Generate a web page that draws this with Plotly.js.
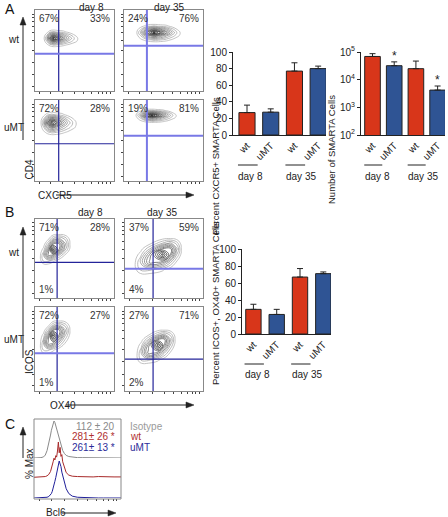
<!DOCTYPE html>
<html><head><meta charset="utf-8">
<script src="https://cdn.plot.ly/plotly-3.0.1.min.js"></script>
<style>html,body{margin:0;padding:0;background:#fff}#c{width:448px;height:517px}</style>
</head><body><div id="c"></div>
<script>
// ---------------- DATA ----------------
const groups = ["wt", "uMT", "wt", "uMT"];
const dayLabels = ["day 8", "day 35"];
const rowLabels = ["wt", "uMT"];

const pctCXCR5 = [27, 27.5, 77, 80];
const pctCXCR5Err = [9, 4, 10, 3];
const numSMARTA = [69000, 32000, 25000, 4200];
const numSMARTAErr = [18000, 12000, 22000, 1700];
const numStars = ["", "*", "", "*"];
const pctICOS = [29, 23, 67, 71];
const pctICOSErr = [6, 6, 10, 2];
const pctTicks = [0, 20, 40, 60, 80, 100];
const logTickVals = [100, 1000, 10000, 100000];
const logTickText = ["10<sup>2</sup>", "10<sup>3</sup>", "10<sup>4</sup>", "10<sup>5</sup>"];

// flow quadrant percentages: [top-left, top-right, bottom-left]
const flowPctA = [["67%", "33%", ""], ["24%", "76%", ""], ["72%", "28%", ""], ["19%", "81%", ""]];
const flowPctB = [["71%", "28%", "1%"], ["37%", "59%", "4%"], ["72%", "27%", "1%"], ["27%", "71%", "2%"]];
// quadrant gates [x, y] (arbitrary fluorescence units 0-100)
const gatesA = [[30, 46], [29, 56], [30, 46], [29, 56]];
const gatesB = [[28, 45], [36, 37], [28, 45], [36, 38]];

// density templates (rows = increasing y)
const zWide = [
  [0, 0, 0, 0, 0, 0, 0, 0, 0],
  [0, 0.5, 1.2, 1.8, 1.6, 1.1, 0.6, 0, 0],
  [0, 1.5, 4, 5.5, 4.5, 3.2, 2, 1, 0],
  [0, 2.5, 7, 10, 8, 5.5, 3.2, 1.3, 0],
  [0, 1.5, 4.5, 6, 5, 3.5, 2, 0.7, 0],
  [0, 0.4, 1.3, 1.8, 1.4, 1.1, 0.4, 0, 0],
  [0, 0, 0, 0, 0, 0, 0, 0, 0]
];
const zTilt = [
  [0, 0, 0, 0, 0, 0, 0],
  [0, 1.8, 1.8, 1, 0.2, 0, 0],
  [0, 2.5, 6, 5, 2.5, 0.6, 0],
  [0, 1.2, 5, 10, 6.5, 2.5, 0],
  [0, 0.4, 2.5, 6.5, 7, 3.5, 0],
  [0, 0, 0.6, 2.5, 3.5, 2.2, 0],
  [0, 0, 0, 0, 0, 0, 0]
];
// grid coordinates of each flow plot population
const gridAx = [
  [10, 15, 19, 23, 29, 36, 43, 51, 59],
  [14, 21, 29, 38, 46, 54, 61, 68, 76],
  [6, 11, 16, 21, 27, 34, 41, 49, 57],
  [13, 20, 27, 35, 42, 49, 56, 63, 71]
];
const gridAy = [
  [53, 57, 61, 65, 69, 73, 77],
  [59, 63, 68, 72, 76, 80, 84],
  [55, 60, 66, 72, 77, 82, 87],
  [71, 74, 78, 81, 84, 87, 90]
];
const gridBx = [
  [5, 11, 17, 23, 30, 38, 46],
  [10, 20, 32, 48, 58, 66, 74],
  [5, 11, 17, 23, 30, 38, 46],
  [13, 21, 30, 42, 50, 58, 66]
];
const gridBy = [
  [40, 47, 54, 61, 68, 75, 82],
  [27, 36, 45, 55, 62, 69, 77],
  [42, 49, 56, 66, 72, 78, 85],
  [30, 37, 45, 55, 61, 67, 74]
];

// Bcl6 histograms (% of max)
const bcl6X = [0, 4, 8, 11, 13, 15, 17, 19, 20, 21, 22, 23, 24, 25, 26, 27, 28, 29, 30, 31, 32, 33, 35, 37, 40, 44, 50, 56, 62, 68, 74, 80, 86, 92, 100];
const isotypeHist = [0, 0, 1, 3, 8, 20, 38, 62, 75, 85, 95, 100, 96, 88, 80, 70, 62, 50, 42, 33, 26, 20, 12, 7, 4, 2, 1, 1, 1, 0, 1, 0, 1, 0, 0];
const wtHist = [2, 2, 3, 3, 4, 6, 10, 18, 25, 35, 45, 55, 50, 62, 58, 75, 100, 70, 85, 60, 65, 45, 30, 15, 8, 5, 4, 3, 4, 3, 4, 3, 4, 3, 3];
const uMTHist = [0, 0, 0, 0, 1, 2, 4, 8, 12, 18, 25, 35, 45, 55, 65, 80, 90, 100, 92, 85, 70, 60, 40, 25, 12, 5, 2, 1, 0, 0, 0, 0, 0, 0, 0];
const histLabels = ["112 ± 20", "281± 26 *", "261± 13 *"];
const histNames = ["Isotype", "wt", "uMT"];

// ---------------- LAYOUT ----------------
const W = 448, H = 517;
const FONT = "Liberation Sans, Arial, Helvetica, sans-serif";
const RED = "#d8361a", BLUE = "#2f5494";
const NAVY = "#24249a", LBLUE = "#7878e6";
const fx = p => p / W, fy = p => 1 - p / H;
const sfx = n => (n === 1 ? "" : String(n));

const layout = {
  width: W, height: H, margin: {l: 0, r: 0, t: 0, b: 0},
  paper_bgcolor: "#fff", plot_bgcolor: "rgba(0,0,0,0)",
  font: {family: FONT, size: 10, color: "#222"},
  showlegend: false, shapes: [], annotations: []
};
const data = [];
const ann = (o) => layout.annotations.push(Object.assign({showarrow: false, xref: "paper", yref: "paper", font: {size: 10, color: "#222"}}, o));
const txt = (t, x, y, o) => ann(Object.assign({text: t, x: fx(x), y: fy(y)}, o || {}));

// flow plots
const flowBoxes = [
  [35, 114, 10, 91], [124, 203, 10, 91], [35, 114, 100, 181], [124, 203, 100, 181],
  [35, 114, 219, 298], [125, 203, 219, 298], [35, 114, 307, 391], [125, 203, 307, 391]
];
const gateColors = [
  [NAVY, LBLUE], [LBLUE, LBLUE], [NAVY, NAVY], [LBLUE, LBLUE],
  [NAVY, NAVY], [NAVY, LBLUE], [NAVY, LBLUE], [NAVY, NAVY]
];
const flowTicks = [6, 20, 35, 50, 62, 72, 80, 86, 91, 95];
flowBoxes.forEach((b, i) => {
  const n = i + 1, s = sfx(n);
  layout["xaxis" + s] = {domain: [fx(b[0]), fx(b[1])], range: [0, 100], anchor: "y" + s,
    showgrid: false, zeroline: false, showline: true, mirror: true, linecolor: "#888", linewidth: 1,
    ticks: "outside", ticklen: 2, tickcolor: "#444", tickvals: flowTicks, showticklabels: false, fixedrange: true};
  layout["yaxis" + s] = {domain: [fy(b[3]), fy(b[2])], range: [0, 100], anchor: "x" + s,
    showgrid: false, zeroline: false, showline: true, mirror: true, linecolor: "#888", linewidth: 1,
    ticks: "outside", ticklen: 2, tickcolor: "#444", tickvals: flowTicks, showticklabels: false, fixedrange: true};
  const isA = i < 4, k = i % 4;
  const gx = isA ? gridAx[k] : gridBx[k], gy = isA ? gridAy[k] : gridBy[k];
  data.push({type: "contour", x: gx, y: gy, z: isA ? zWide : zTilt, xaxis: "x" + s, yaxis: "y" + s,
    showscale: false, hoverinfo: "skip",
    contours: {coloring: "lines", start: 0.8, end: 10, size: 0.8},
    line: {width: 0.8, smoothing: 1.3},
    colorscale: [[0, "#b4b4b4"], [0.5, "#6a6a6a"], [1, "#151515"]]});
  const g = isA ? gatesA[k] : gatesB[k];
  const wv = (gateColors[i][0] === LBLUE) ? 2 : 1.2;
  const wh = (gateColors[i][1] === LBLUE) ? 2 : 1.2;
  layout.shapes.push({type: "line", xref: "x" + s, yref: "y" + s + " domain", x0: g[0], x1: g[0], y0: 0, y1: 1, line: {color: gateColors[i][0], width: wv}});
  layout.shapes.push({type: "line", xref: "x" + s + " domain", yref: "y" + s, x0: 0, x1: 1, y0: g[1], y1: g[1], line: {color: gateColors[i][1], width: wh}});
  const p = isA ? flowPctA[k] : flowPctB[k];
  const fnt = {size: 10, color: "#333"};
  layout.annotations.push({text: p[0], xref: "x" + s + " domain", yref: "y" + s + " domain", x: 0.03, y: 0.99, xanchor: "left", yanchor: "top", showarrow: false, font: fnt});
  layout.annotations.push({text: p[1], xref: "x" + s + " domain", yref: "y" + s + " domain", x: 0.98, y: 0.99, xanchor: "right", yanchor: "top", showarrow: false, font: fnt});
  if (p[2]) layout.annotations.push({text: p[2], xref: "x" + s + " domain", yref: "y" + s + " domain", x: 0.03, y: 0.01, xanchor: "left", yanchor: "bottom", showarrow: false, font: fnt});
});

// bar charts
function barChart(n, box, vals, errs, opts) {
  const s = sfx(n);
  layout["xaxis" + s] = {domain: [fx(box[0]), fx(box[1])], range: opts.xr, anchor: "y" + s,
    showgrid: false, zeroline: false, showline: true, linecolor: "#222", linewidth: 1,
    tickvals: [0, 1, 2, 3], ticktext: groups, tickangle: -45, ticks: "", tickfont: {size: 10, color: "#222"}, fixedrange: true};
  const ya = {domain: [fy(box[3]), fy(box[2])], anchor: "x" + s,
    showgrid: false, zeroline: false, showline: true, linecolor: "#222", linewidth: 1,
    ticks: "outside", ticklen: 3, tickcolor: "#222", tickfont: {size: 10, color: "#222"}, fixedrange: true};
  if (opts.log) Object.assign(ya, {type: "log", range: [2, 5], tickvals: logTickVals, ticktext: logTickText});
  else Object.assign(ya, {range: [0, 100], tickvals: pctTicks});
  layout["yaxis" + s] = ya;
  data.push({type: "bar", x: [0, 1, 2, 3], y: vals, xaxis: "x" + s, yaxis: "y" + s, width: opts.bw,
    marker: {color: [RED, BLUE, RED, BLUE], line: {color: "#222", width: 1}},
    error_y: {type: "data", symmetric: false, array: errs, arrayminus: [0, 0, 0, 0], color: "#222", thickness: 1, width: 3},
    hoverinfo: "skip"});
  [0, 2].forEach((gi, j) => {
    layout.shapes.push({type: "line", xref: "x" + s, yref: "paper", x0: gi - 0.38, x1: gi + 0.45, y0: fy(opts.ly), y1: fy(opts.ly), line: {color: "#222", width: 1}});
    layout.annotations.push({text: dayLabels[j], xref: "x" + s, yref: "paper", x: gi - 0.45, y: fy(opts.ty), xanchor: "left", yanchor: "middle", showarrow: false, font: {size: 10, color: "#222"}});
  });
}
barChart(9, [233, 326, 52, 135], pctCXCR5, pctCXCR5Err, {xr: [-0.59, 3.33], bw: 0.68, ly: 165, ty: 176});
barChart(10, [361, 445, 52, 135], numSMARTA, numSMARTAErr, {xr: [-0.53, 3.34], bw: 0.72, log: true, ly: 165, ty: 176});
barChart(11, [242, 331, 249, 334], pctICOS, pctICOSErr, {xr: [-0.49, 3.33], bw: 0.66, ly: 364, ty: 374});
numStars.forEach((st, i) => {
  if (st) layout.annotations.push({text: st, xref: "x10", yref: "y10", x: i, y: Math.log10(numSMARTA[i] + numSMARTAErr[i]), yanchor: "bottom", yshift: -3, showarrow: false, font: {size: 12, color: "#222"}});
});

// Bcl6 histogram panel
const hb = [34, 121, 419, 499];
layout.xaxis12 = {domain: [fx(hb[0]), fx(hb[1])], range: [0, 100], anchor: "y14", showgrid: false, zeroline: false,
  showline: false, ticks: "outside", ticklen: 2, tickcolor: "#444", tickvals: [6, 20, 35, 50, 62, 72, 80, 86, 91, 95], showticklabels: false, fixedrange: true};
const hy = [[458, 421], [478, 442], [498, 461]];
[12, 13, 14].forEach((n, i) => {
  layout["yaxis" + n] = {domain: [fy(hy[i][0]), fy(hy[i][1])], range: [0, 100], anchor: "x12", visible: false, fixedrange: true};
});
layout.shapes.push({type: "rect", xref: "paper", yref: "paper", x0: fx(hb[0]), x1: fx(hb[1]), y0: fy(hb[3]), y1: fy(hb[2]), line: {color: "#888", width: 1}});
const histCols = ["#8a8a8a", "#a82a2a", "#1f1f99"];
[isotypeHist, wtHist, uMTHist].forEach((h, i) => {
  data.push({type: "scatter", mode: "lines", x: bcl6X, y: h, xaxis: "x12", yaxis: "y" + (12 + i), line: {color: histCols[i], width: 1}, hoverinfo: "skip", cliponaxis: false});
});
const htCols = ["#8a8a8a", "#b03030", "#2b2b99"];
histLabels.forEach((t, i) => {
  txt(t, 117, 426 + i * 10.5, {xanchor: "right", yanchor: "middle", font: {size: 10, color: htCols[i]}});
  txt(histNames[i], 128, 426 + i * 10.5, {xanchor: "left", yanchor: "middle", font: {size: 10, color: i === 0 ? "#9a9a9a" : htCols[i]}});
});

// panel letters & headers
txt("A", 3, 9, {xanchor: "left", yanchor: "middle", font: {size: 14, color: "#111"}});
txt("B", 3, 212, {xanchor: "left", yanchor: "middle", font: {size: 14, color: "#111"}});
txt("C", 3, 424, {xanchor: "left", yanchor: "middle", font: {size: 14, color: "#111"}});
txt(dayLabels[0], 77, 7.5, {yanchor: "middle"});
txt(dayLabels[1], 169, 7.5, {yanchor: "middle"});
txt(dayLabels[0], 76, 212, {yanchor: "middle"});
txt(dayLabels[1], 145, 212, {yanchor: "middle"});
txt(rowLabels[0], 6, 40, {xanchor: "left", yanchor: "middle"});
txt(rowLabels[1], 2, 128, {xanchor: "left", yanchor: "middle"});
txt(rowLabels[0], 6, 252, {xanchor: "left", yanchor: "middle"});
txt(rowLabels[1], 2, 339, {xanchor: "left", yanchor: "middle"});

// axis arrows (shapes) and labels
function arrow(hx, hy2, tx, ty) {
  const dx = hx - tx, dy = hy2 - ty, L = Math.hypot(dx, dy), ux = dx / L, uy = dy / L;
  const bx = hx - ux * 8, by = hy2 - uy * 8, w = 3;
  layout.shapes.push({type: "line", xref: "paper", yref: "paper", x0: fx(tx), y0: fy(ty), x1: fx(bx), y1: fy(by), line: {color: "#222", width: 1}});
  const p1 = [bx - uy * w, by + ux * w], p2 = [bx + uy * w, by - ux * w];
  layout.shapes.push({type: "path", xref: "paper", yref: "paper",
    path: `M ${fx(hx)} ${fy(hy2)} L ${fx(p1[0])} ${fy(p1[1])} L ${fx(p2[0])} ${fy(p2[1])} Z`,
    fillcolor: "#222", line: {color: "#222", width: 0.5}});
}
arrow(23, 17, 23, 140); arrow(194, 195, 56, 195);
arrow(23, 227, 23, 358); arrow(194, 405, 66, 405);
arrow(23, 427, 23, 458); arrow(116, 513, 62, 513);
txt("CD4", 22, 158, {textangle: -90});
txt("CXCR5", 36, 195, {yanchor: "middle"});
txt("ICOS", 22, 376, {textangle: -90});
txt("OX40", 48, 405, {yanchor: "middle"});
txt("% Max", 22, 481, {textangle: -90});
txt("Bcl6", 44, 512, {yanchor: "middle"});

// bar y titles
txt("Percent CXCR5+ SMARTA Cells", 215, 95, {textangle: -90, font: {size: 9.5, color: "#222"}});
txt("Number of SMARTA Cells", 339, 93, {textangle: -90, font: {size: 9.5, color: "#222"}});
txt("Percent ICOS+, OX40+ SMARTA Cells", 215, 303, {textangle: -90, font: {size: 9.5, color: "#222"}});

Plotly.newPlot("c", data, layout, {staticPlot: true, displayModeBar: false});
</script></body></html>
